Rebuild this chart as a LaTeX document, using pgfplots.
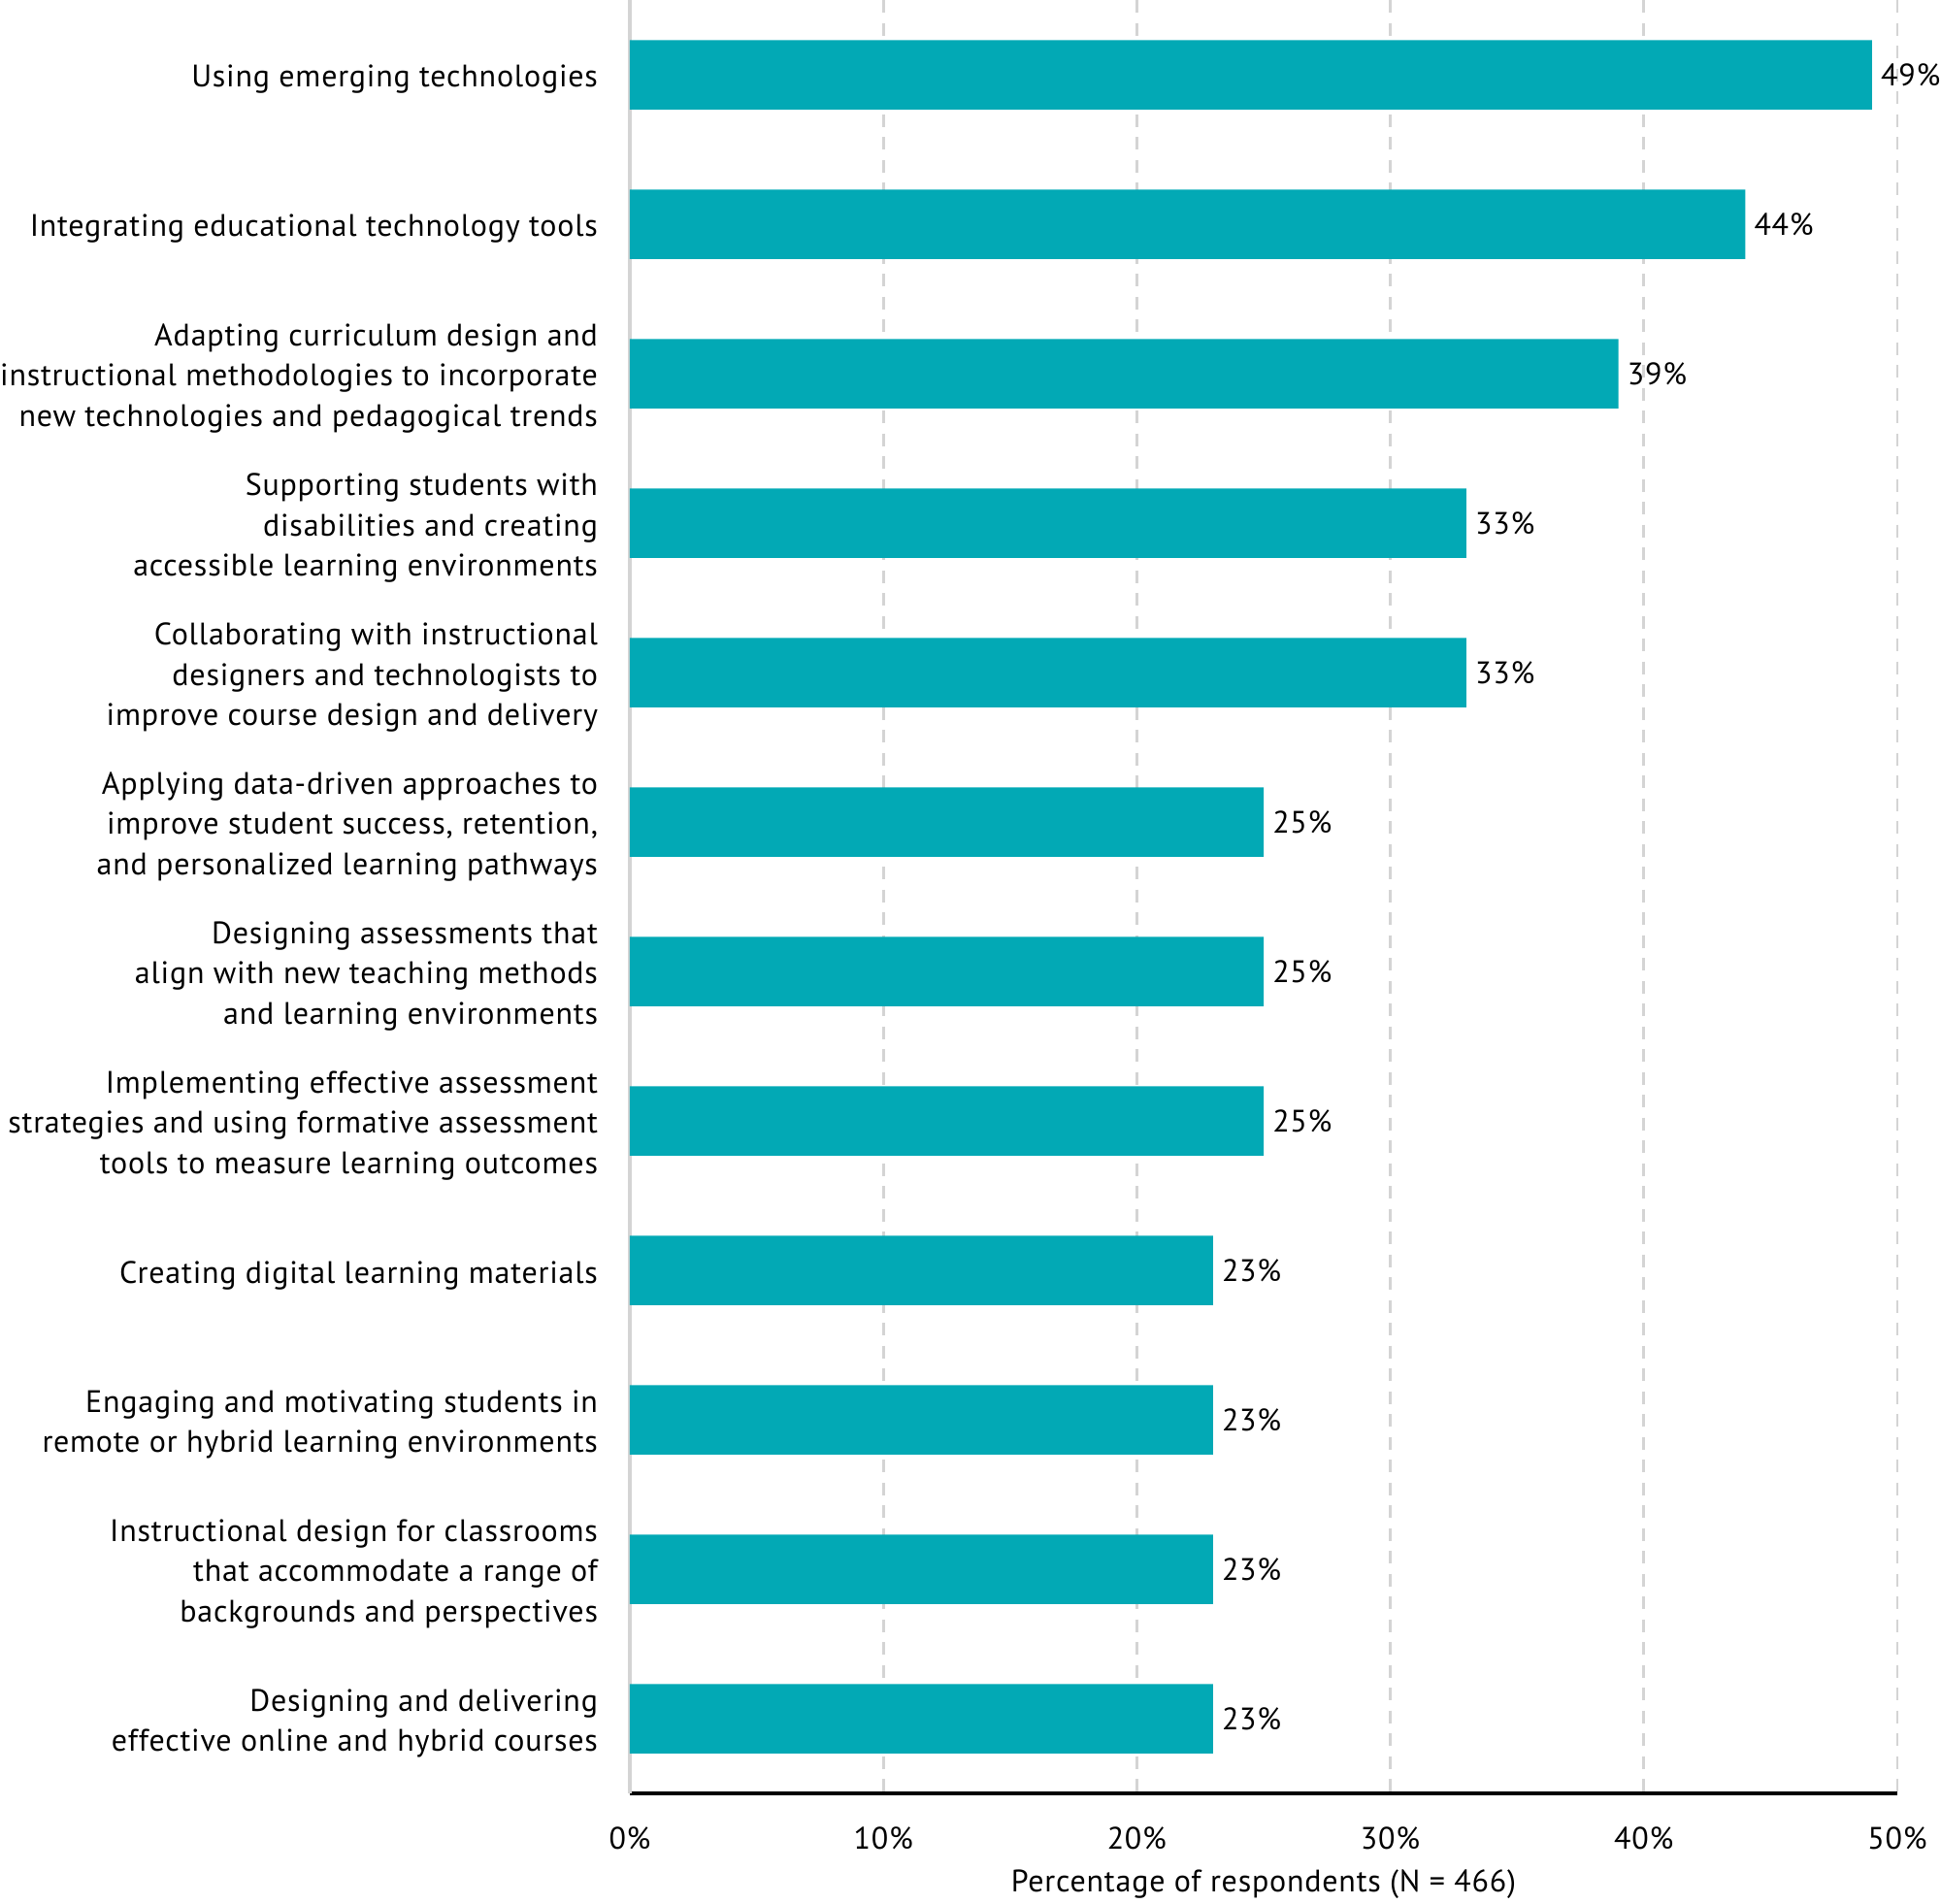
\documentclass[border=0pt]{standalone}
\usepackage{pgfplots}
\pgfplotsset{compat=1.18}
\usepackage{fontspec}
\setmainfont[LetterSpace=2.5]{PT Sans}
\usetikzlibrary{calc}
\definecolor{barteal}{RGB}{2,169,181}
\definecolor{gridgray}{RGB}{212,212,212}
\newcommand{\lblfont}{\fontsize{12.8}{16.6}\selectfont}
\begin{document}
\begin{tikzpicture}
\begin{axis}[
  scale only axis,
  width=522.4pt, height=739.2pt,
  xbar, bar width=28.6pt,
  xmin=0, xmax=50,
  ymin=-0.5, ymax=11.5,
  y dir=reverse,
  clip=false,
  /pgf/number format/assume math mode=true,
  axis x line*=bottom,
  axis y line*=left,
  x axis line style={black, line width=1.3pt},
  y axis line style={gridgray, line width=1.3pt},
  xmajorgrids,
  grid style={gridgray, line width=1.1pt, dash pattern=on 5.2pt off 4.2pt},
  major tick length=0pt,
  xtick={0,10,20,30,40,50},
  xticklabels={0\%,10\%,20\%,30\%,40\%,50\%},
  xticklabel style={anchor=center, yshift=-18.4pt, font=\lblfont},
  ytick={0,...,11},
  yticklabels={
    {Using emerging technologies},
    {Integrating educational technology tools},
    {Adapting curriculum design and\\instructional methodologies to incorporate\\new technologies and pedagogical trends},
    {Supporting students with\\disabilities and creating\\accessible learning environments},
    {Collaborating with instructional\\designers and technologists to\\improve course design and delivery},
    {Applying data-driven approaches to\\improve student success, retention,\\and personalized learning pathways},
    {Designing assessments that\\align with new teaching methods\\and learning environments},
    {Implementing effective assessment\\strategies and using formative assessment\\tools to measure learning outcomes},
    {Creating digital learning materials},
    {Engaging and motivating students in\\remote or hybrid learning environments},
    {Instructional design for classrooms\\that accommodate a range of\\backgrounds and perspectives},
    {Designing and delivering\\effective online and hybrid courses}
  },
  yticklabel style={align=right, anchor=east, inner sep=0pt, xshift=-13pt, yshift=-2pt, font=\lblfont},
  xlabel={Percentage of respondents (N = 466)},
  xlabel style={at={(axis description cs:0.5,0)}, anchor=center, yshift=-37.6pt, font=\lblfont},
  point meta=x,
  nodes near coords={\pgfmathprintnumber{\pgfplotspointmeta}\%},
  nodes near coords style={anchor=west, inner sep=0pt, xshift=3.5pt, font=\lblfont, black},
]
\addplot[fill=barteal, draw=none] coordinates {
  (49,0) (44,1) (39,2) (33,3) (33,4) (25,5)
  (25,6) (25,7) (23,8) (23,9) (23,10) (23,11)
};
\coordinate (sw) at (rel axis cs:0,0);
\coordinate (ne) at (rel axis cs:1,1);
\end{axis}
\pgfresetboundingbox
\path[use as bounding box] ($(sw)+(-259.6pt,-45.2pt)$) rectangle ($(ne)+(18pt,0pt)$);
\end{tikzpicture}
\end{document}
